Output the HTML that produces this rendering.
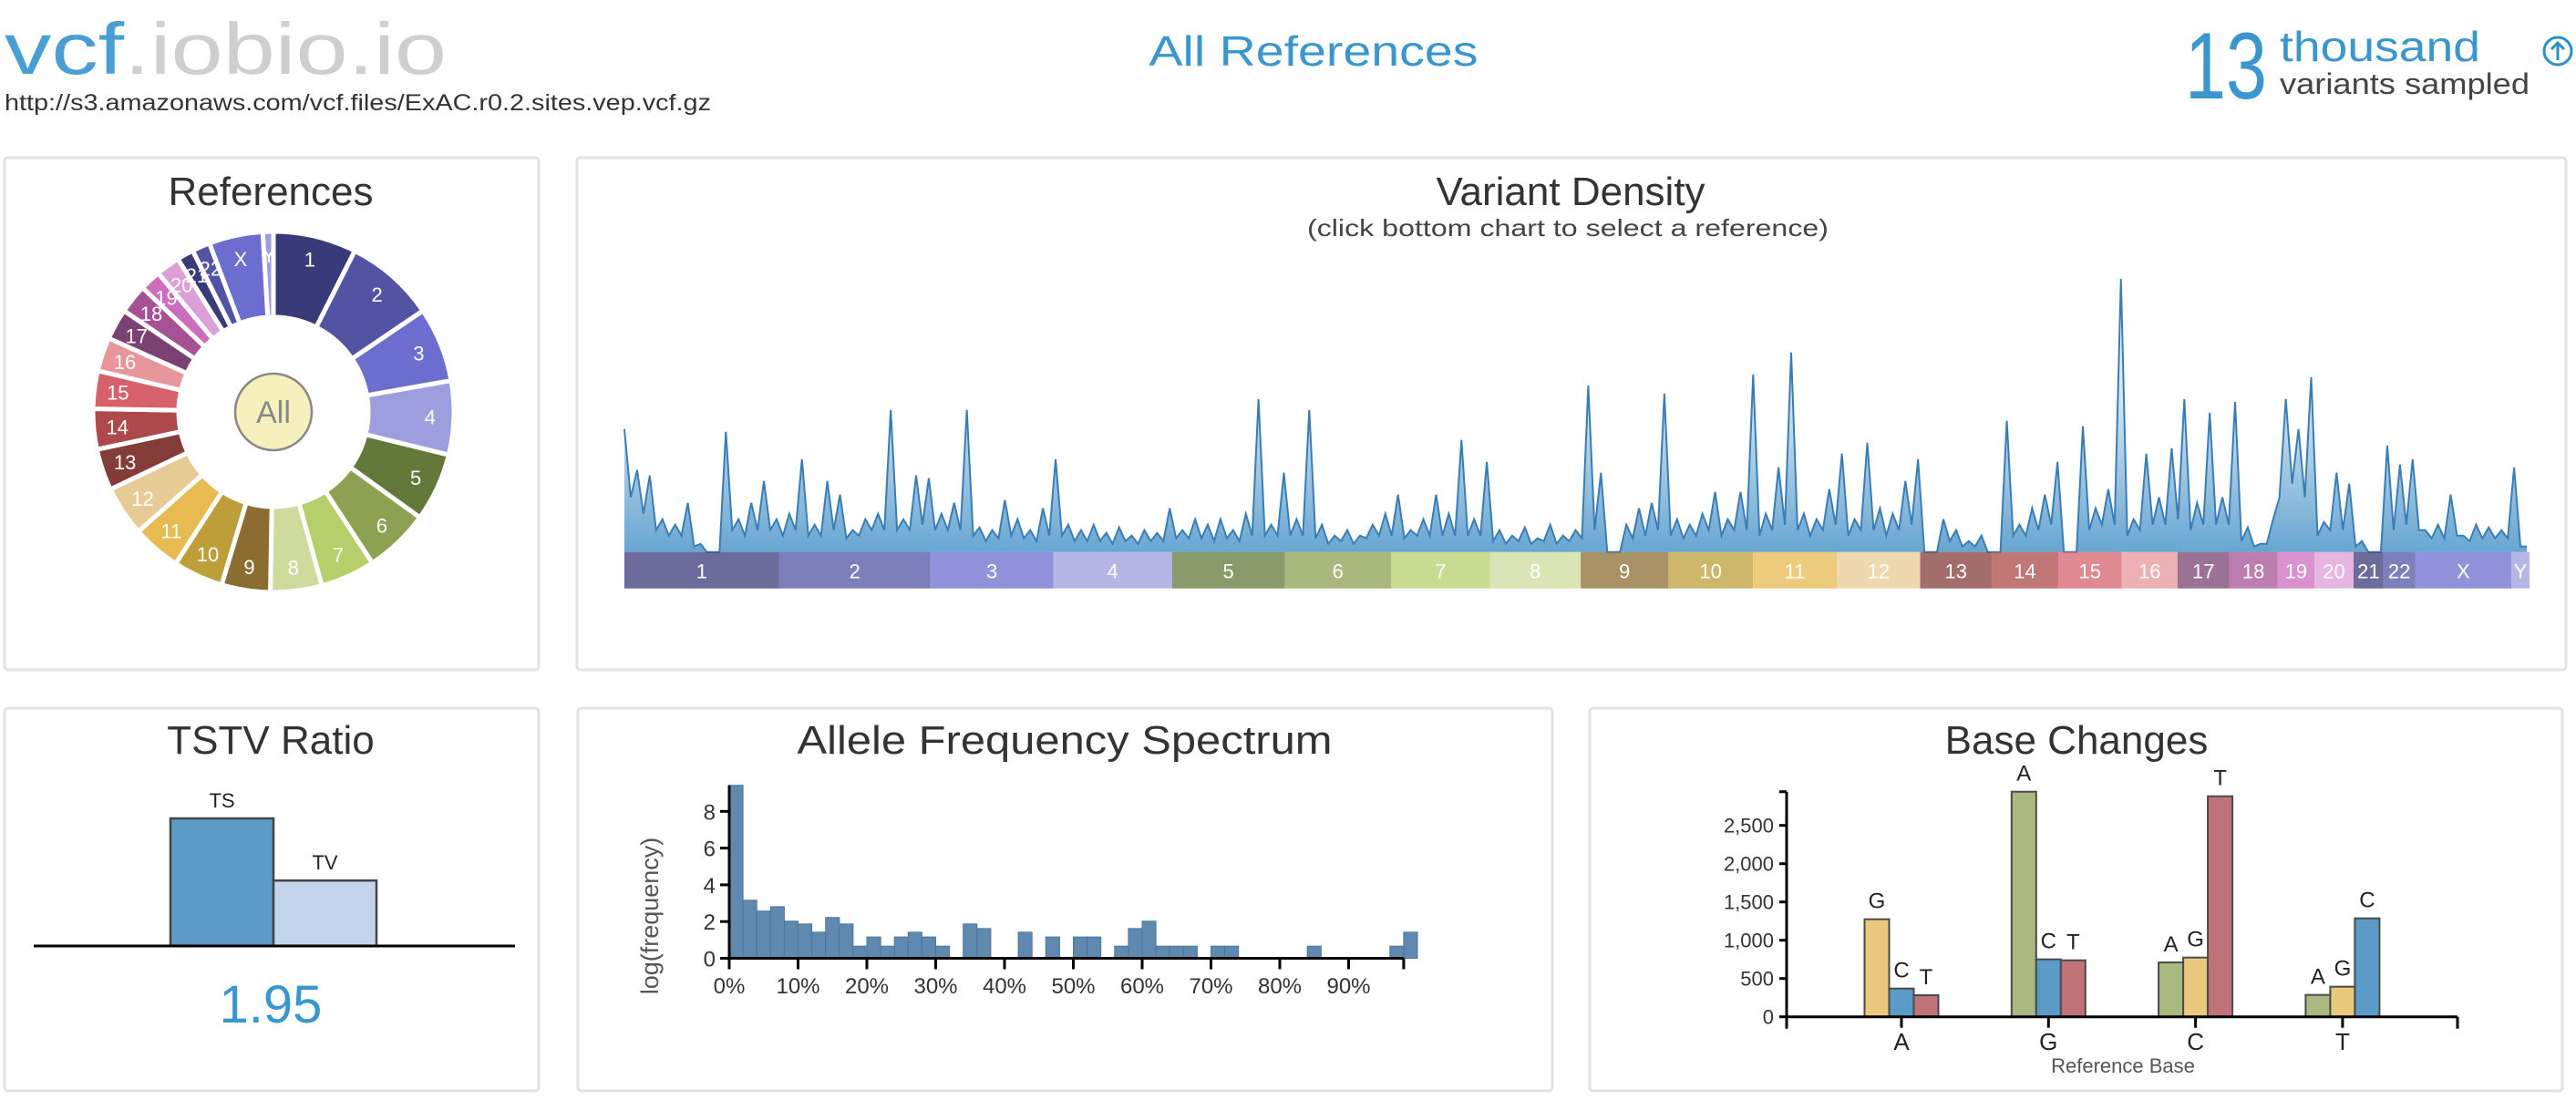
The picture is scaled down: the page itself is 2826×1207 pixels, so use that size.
<!DOCTYPE html>
<html>
<head>
<meta charset="utf-8">
<title>vcf.iobio.io</title>
<style>
  html,body{margin:0;padding:0;background:#fff;}
  body{width:2826px;height:1202px;overflow:hidden;font-family:"Liberation Sans",sans-serif;}
  svg text{font-family:"Liberation Sans",sans-serif;}
</style>
</head>
<body>
<svg id="root" width="2826" height="1202" viewBox="0 0 2826 1202" xmlns="http://www.w3.org/2000/svg">
  <defs>
    <linearGradient id="densGrad" x1="0" y1="306" x2="0" y2="606" gradientUnits="userSpaceOnUse">
      <stop offset="0" stop-color="#ffffff"/>
      <stop offset="0.45" stop-color="#d3e4f2"/>
      <stop offset="1" stop-color="#67a6d1"/>
    </linearGradient>
  </defs>

  <g>
    <text x="5" y="81" font-size="80" textLength="485" lengthAdjust="spacingAndGlyphs"><tspan fill="#4a9ed2">vcf</tspan><tspan fill="#cfcfcf">.iobio.io</tspan></text>
    <text x="5" y="121" font-size="25" fill="#333" textLength="775" lengthAdjust="spacingAndGlyphs">http://s3.amazonaws.com/vcf.files/ExAC.r0.2.sites.vep.vcf.gz</text>
    <text x="1441" y="72" font-size="46" fill="#3a96cf" text-anchor="middle" textLength="361" lengthAdjust="spacingAndGlyphs">All References</text>
    <text x="2397" y="108" font-size="104" fill="#3a96cf" textLength="90" lengthAdjust="spacingAndGlyphs">13</text>
    <text x="2501" y="67" font-size="46" fill="#3a96cf" textLength="220" lengthAdjust="spacingAndGlyphs">thousand</text>
    <text x="2501" y="103" font-size="32" fill="#444" textLength="274" lengthAdjust="spacingAndGlyphs">variants sampled</text>
    <g>
      <circle cx="2806" cy="56" r="15" fill="none" stroke="#2d8fc8" stroke-width="3"/>
      <path d="M2806 66 L2806 47 M2799 54 L2806 47 L2813 54" fill="none" stroke="#2d8fc8" stroke-width="3"/>
    </g>
  </g>

  <rect x="5" y="173" width="586" height="562" rx="4" fill="#fff" stroke="#e3e3e3" stroke-width="3"/>
  <rect x="633" y="173" width="2182" height="562" rx="4" fill="#fff" stroke="#e3e3e3" stroke-width="3"/>
  <rect x="5" y="777" width="586" height="420" rx="4" fill="#fff" stroke="#e3e3e3" stroke-width="3"/>
  <rect x="634" y="777" width="1069" height="420" rx="4" fill="#fff" stroke="#e3e3e3" stroke-width="3"/>
  <rect x="1744" y="777" width="1067" height="420" rx="4" fill="#fff" stroke="#e3e3e3" stroke-width="3"/>

  <text x="297" y="225" font-size="44" fill="#333" text-anchor="middle">References</text>
  <text x="1723" y="225" font-size="44" fill="#333" text-anchor="middle">Variant Density</text>
  <text x="1720" y="259" font-size="26" fill="#444" text-anchor="middle" textLength="572" lengthAdjust="spacingAndGlyphs">(click bottom chart to select a reference)</text>
  <text x="297" y="827" font-size="44" fill="#333" text-anchor="middle">TSTV Ratio</text>
  <text x="1168" y="827" font-size="44" fill="#333" text-anchor="middle" textLength="587" lengthAdjust="spacingAndGlyphs">Allele Frequency Spectrum</text>
  <text x="2278" y="827" font-size="44" fill="#333" text-anchor="middle">Base Changes</text>

  <g id="donut"></g>
  <g id="density"></g>
  <g id="tstv"></g>
  <g id="afs"></g>
  <g id="bc"></g>
</svg>

<script>
const chromNames = ['1','2','3','4','5','6','7','8','9','10','11','12','13','14','15','16','17','18','19','20','21','22','X','Y'];
const chromColors = ['#393b79','#5254a3','#6b6ecf','#9c9ede','#637939','#8ca252','#b5cf6b','#cedb9c','#8c6d31','#bd9e39','#e7ba52','#e7cb94','#843c39','#ad494a','#d6616b','#e7969c','#7b4173','#a55194','#ce6dbd','#de9ed6','#393b79','#5254a3','#6b6ecf','#9c9ede'];
const refShares = [26.8,29.1,24.1,23.8,22,21,17.6,16.6,15.7,16.1,15.7,16.1,13.4,13,12.2,10.9,10,9.4,6.8,7.7,5.4,5.8,17.4,3.4];
const genomeLengths = [249,243,198,191,181,171,159,146,141,136,135,134,115,107,102,90,83,78,59,63,48,51,155,29];
const densityValues = [45,30,28,12,10,18,3,0,44,12,18,26,12,14,34,10,26,21,8,12,14,52,12,28,27,14,18,52,9,8,19,12,8,16,34,10,8,10,7,9,6,8,7,16,8,12,10,12,8,14,56,10,29,12,52,10,6,8,6,10,14,21,8,12,21,14,41,12,33,8,6,9,5,10,6,8,61,29,0,10,16,18,58,12,10,14,22,12,22,65,14,31,73,14,12,23,36,12,40,16,14,26,34,0,12,8,4,6,0,48,10,16,21,33,0,46,16,23,100,12,36,20,38,56,18,51,20,55,9,3,12,56,45,64,11,29,25,4,0,39,32,34,8,10,21,6,10,9,8,31,2];
const densityTroughs = [20,14,8,6,6,2,0,0,8,6,8,8,6,8,6,6,8,5,6,8,8,8,8,10,8,8,8,6,4,5,6,5,4,6,6,4,4,4,3,4,3,4,4,5,5,5,4,5,4,6,6,6,6,6,5,3,4,3,5,6,6,5,6,6,6,6,6,6,4,3,4,3,4,3,4,5,8,0,0,5,6,8,6,5,6,8,6,8,8,6,8,10,8,6,8,10,6,8,8,6,8,10,0,0,4,2,2,0,0,6,6,8,10,0,0,8,10,10,6,8,10,10,12,8,10,10,10,4,2,3,20,25,20,6,8,8,2,0,0,8,10,8,5,5,6,4,5,5,5,2];
const tstvLabels = ['TS','TV'];
const tstvValues = [1.95,1];
const tstvRatioText = '1.95';
const afsValues = [9.42,3.16,2.57,2.81,2.02,1.87,1.42,2.22,1.87,0.66,1.16,0.66,1.16,1.42,1.16,0.66,0,1.87,1.62,0,0,1.42,0,1.16,0,1.16,1.16,0,0.66,1.62,2.02,0.66,0.66,0.66,0,0.66,0.66,0,0,0,0,0,0.66,0,0,0,0,0,0.66,1.42];
const afsXTicks = ['0%','10%','20%','30%','40%','50%','60%','70%','80%','90%'];
const afsYTicks = [0,2,4,6,8];
const baseRefs = ['A','G','C','T'];
const baseAlts = [['G','C','T'],['A','C','T'],['A','G','T'],['A','G','C']];
const baseCounts = [[1274,369,282],[2940,750,738],[710,774,2881],[286,393,1286]];
const bcYTicks = [0,500,1000,1500,2000,2500];
const bcYTickLabels = ['0','500','1,000','1,500','2,000','2,500'];
const baseColors = {A:'#aab97f',G:'#ebc97c',C:'#5a9bc7',T:'#c07377'};

const NS = 'http://www.w3.org/2000/svg';
function mk(tag, attrs, parent){ const e=document.createElementNS(NS,tag); for(const k in attrs) e.setAttribute(k,attrs[k]); parent.appendChild(e); return e; }

(function(){
  const g = document.getElementById('donut');
  const cx=300, cy=452, r0=104, r1=198, rl=172;
  const total = refShares.reduce((a,b)=>a+b,0);
  let a = 0;
  refShares.forEach((v,i)=>{
    const a0=a/total*2*Math.PI, a1=(a+v)/total*2*Math.PI; a+=v;
    const p=(r,t)=>[cx+r*Math.sin(t), cy-r*Math.cos(t)];
    const [x0,y0]=p(r1,a0),[x1,y1]=p(r1,a1),[x2,y2]=p(r0,a1),[x3,y3]=p(r0,a0);
    const large=(a1-a0)>Math.PI?1:0;
    const path = mk('path',{d:`M${x0},${y0} A${r1},${r1} 0 ${large} 1 ${x1},${y1} L${x2},${y2} A${r0},${r0} 0 ${large} 0 ${x3},${y3} Z`,fill:chromColors[i],stroke:'#fff','stroke-width':5},g);
    
    
    const m=(a0+a1)/2, [lx,ly]=p(rl,m);
    const t = mk('text',{x:lx,y:ly+8,'font-size':22,fill:'#fff','text-anchor':'middle'},g);
    t.textContent = chromNames[i];
    
    
  });
  const c = mk('circle',{cx:cx,cy:cy,r:42,fill:'#f6f1bc',stroke:'#888','stroke-width':2.5},g);
  
  
  const t = mk('text',{x:cx,y:cy+12,'font-size':34,fill:'#888','text-anchor':'middle'},g);
  t.textContent='All';
  
  
})();

(function(){
  const g = document.getElementById('density');
  const X0=685, X1=2772, base=605.7, top=306, barB=645.7;
  const n = densityValues.length;
  const x = i => X0 + i*(X1-X0)/(n-1);
  const y = v => base - v/100*(base-top);
  const pts = [];
  densityValues.forEach((v,i)=>{
    pts.push([x(i), y(v)]);
    if(i < densityTroughs.length && i < n-1) pts.push([x(i+0.5), y(densityTroughs[i])]);
  });
  let d = `M${pts[0][0]},${base}`;
  pts.forEach(p=>{ d+=` L${p[0]},${p[1]}`; });
  d += ` L${pts[pts.length-1][0]},${base} Z`;
  const area = mk('path',{d:d,fill:'url(#densGrad)',stroke:'none'},g);
  
  
  let ld = '';
  pts.forEach((p,i)=>{ ld+=(i?' L':'M')+p[0]+','+p[1]; });
  const line = mk('path',{d:ld,fill:'none',stroke:'#3a7db5','stroke-width':2},g);
  
  
  const tot = genomeLengths.reduce((a,b)=>a+b,0);
  const BX1 = 2775;
  let acc = 0;
  genomeLengths.forEach((L,i)=>{
    const bx0 = X0 + acc/tot*(BX1-X0); acc+=L;
    const bx1 = X0 + acc/tot*(BX1-X0);
    const r = mk('rect',{x:bx0,y:base,width:bx1-bx0,height:barB-base,fill:chromColors[i],'fill-opacity':0.75},g);
    
    
    const t = mk('text',{x:(bx0+bx1)/2,y:base+29,'font-size':22,fill:'#fff','text-anchor':'middle'},g);
    t.textContent = chromNames[i];
    
    
  });
})();

(function(){
  const g = document.getElementById('tstv');
  const base=1038, scale=140/tstvValues[0];
  const xs=[187,300], w=113;
  const fills=['#5b9bc6','#c3d5eb'];
  tstvValues.forEach((v,i)=>{
    const h=v*scale;
    const r = mk('rect',{x:xs[i],y:base-h,width:w,height:h,fill:fills[i],stroke:'#444','stroke-width':2.5},g);
    
    
    const t = mk('text',{x:xs[i]+w/2,y:base-h-12,'font-size':22,fill:'#222','text-anchor':'middle'},g);
    t.textContent = tstvLabels[i];
    
    
  });
  const l = mk('line',{x1:37,x2:565,y1:base,y2:base,stroke:'#000','stroke-width':3},g);
  
  
  const t = mk('text',{x:297,y:1122,'font-size':58,fill:'#3a96cf','text-anchor':'middle'},g);
  t.textContent = tstvRatioText;
  
  
})();

(function(){
  const g = document.getElementById('afs');
  const x = f => 800 + f*(1555-800);
  const y = v => 1051.5 - v*20.15;
  const bw = 1/afsValues.length;
  afsValues.forEach((v,i)=>{
    if(v<=0) return;
    const r = mk('rect',{x:x(i*bw),y:y(v),width:x(bw)-x(0),height:y(0)-y(v),fill:'#6089b0',stroke:'#4a76a0','stroke-width':1},g);
    
    
  });
  const yl = mk('line',{x1:800,x2:800,y1:y(9.42),y2:y(0),stroke:'#000','stroke-width':3},g);
  
  
  afsYTicks.forEach(v=>{
    mk('line',{x1:790,x2:800,y1:y(v),y2:y(v),stroke:'#000','stroke-width':3},g);
    const t = mk('text',{x:785,y:y(v)+9,'font-size':24,fill:'#333','text-anchor':'end'},g);
    t.textContent = v;
    
    
  });
  const endF = 0.98;
  const xl = mk('line',{x1:800,x2:x(endF),y1:y(0),y2:y(0),stroke:'#000','stroke-width':3},g);
  
  
  afsXTicks.forEach((lab,i)=>{
    const xx = x(i/10);
    mk('line',{x1:xx,x2:xx,y1:y(0),y2:y(0)+12,stroke:'#000','stroke-width':3},g);
    const t = mk('text',{x:xx,y:1090,'font-size':24,fill:'#333','text-anchor':'middle'},g);
    t.textContent = lab;
    
    
  });
  mk('line',{x1:x(endF),x2:x(endF),y1:y(0),y2:y(0)+12,stroke:'#000','stroke-width':3},g);
  const yt = mk('text',{x:0,y:0,'font-size':27,fill:'#555','text-anchor':'middle',transform:'translate(722,1005) rotate(-90)'},g);
  yt.textContent = 'log(frequency)';
  
  
})();

(function(){
  const g = document.getElementById('bc');
  const maxV = Math.max(...baseCounts.flat());
  const y = v => 1115.7 - v*(42/500);
  const ax0=1960, ax1=2696;
  const xc = i => 2086 + i*161.3;
  const bw = 27;
  baseRefs.forEach((ref,gi)=>{
    baseAlts[gi].forEach((alt,j)=>{
      const v = baseCounts[gi][j];
      const bx = xc(gi) + (j-1.5)*bw;
      const r = mk('rect',{x:bx,y:y(v),width:bw,height:y(0)-y(v),fill:baseColors[alt],stroke:'#4a4a4a','stroke-width':2},g);
      
      
      const t = mk('text',{x:bx+bw/2,y:y(v)-12,'font-size':24,fill:'#222','text-anchor':'middle'},g);
      t.textContent = alt;
      
      
    });
    mk('line',{x1:xc(gi),x2:xc(gi),y1:y(0),y2:y(0)+12,stroke:'#000','stroke-width':3},g);
    const t = mk('text',{x:xc(gi),y:1152,'font-size':26,fill:'#222','text-anchor':'middle'},g);
    t.textContent = ref;
    
    
  });
  const yl = mk('line',{x1:ax0,x2:ax0,y1:y(maxV),y2:y(0),stroke:'#000','stroke-width':3},g);
  
  
  mk('line',{x1:ax0-8,x2:ax0,y1:y(maxV),y2:y(maxV),stroke:'#000','stroke-width':3},g);
  bcYTicks.forEach((v,i)=>{
    mk('line',{x1:ax0-8,x2:ax0,y1:y(v),y2:y(v),stroke:'#000','stroke-width':3},g);
    const t = mk('text',{x:ax0-14,y:y(v)+8,'font-size':22,fill:'#333','text-anchor':'end'},g);
    t.textContent = bcYTickLabels[i];
    
    
  });
  const xl = mk('line',{x1:ax0,x2:ax1,y1:y(0),y2:y(0),stroke:'#000','stroke-width':3},g);
  
  
  mk('line',{x1:ax0,x2:ax0,y1:y(0),y2:y(0)+13,stroke:'#000','stroke-width':3},g);
  mk('line',{x1:ax1,x2:ax1,y1:y(0),y2:y(0)+13,stroke:'#000','stroke-width':3},g);
  const xt = mk('text',{x:2329,y:1177,'font-size':22,fill:'#555','text-anchor':'middle'},g);
  xt.textContent = 'Reference Base';
  
  
})();
</script>
</body>
</html>
